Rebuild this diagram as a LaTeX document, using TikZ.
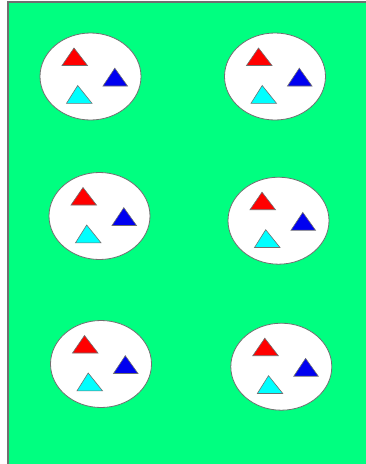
\documentclass[tikz,border=0pt]{standalone}
\usepackage{tikz}
\usepackage{xcolor}
\definecolor{meadow}{RGB}{0,255,128}
\definecolor{rimgray}{RGB}{112,112,112}
\definecolor{tred}{RGB}{255,0,0}
\definecolor{tblue}{RGB}{0,0,240}
\definecolor{tcyan}{RGB}{0,255,255}

\begin{document}
\begin{tikzpicture}[x=1pt, y=-1pt]
  \useasboundingbox (0,0) rectangle (366,464);
  % field
  \fill[meadow] (8,2) rectangle (366,464);
  \draw[rimgray, line width=1.5pt] (8,464) -- (8,2) -- (366,2);
  % pens with three triangles
  \foreach \cx/\cy in {90.5/76.5, 275/76.5, 99.5/216, 278.5/220.7, 101/364, 281.3/366.7} {
    \begin{scope}[shift={(\cx,\cy)}]
      \filldraw[fill=white, draw=rimgray, line width=0.8pt] (0,0) ellipse (50.5pt and 43.5pt);
      \filldraw[fill=tred, draw=rimgray, line width=0.6pt] (-28.5,-11) -- (-3,-11) -- (-16.5,-28.5) -- cycle;
      \filldraw[fill=tblue, draw=rimgray, line width=0.6pt] (12.5,9.5) -- (37,9.5) -- (24.3,-8.3) -- cycle;
      \filldraw[fill=tcyan, draw=rimgray, line width=0.6pt] (-24,26.8) -- (1.5,26.8) -- (-12.8,9) -- cycle;
    \end{scope}
  }
\end{tikzpicture}
\end{document}
